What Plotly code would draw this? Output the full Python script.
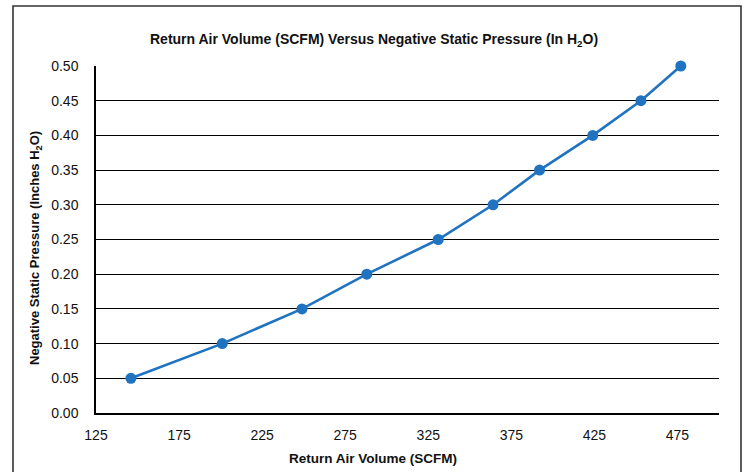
import plotly.graph_objects as go

# Data
airflow_scfm = [146, 201, 249, 288, 331, 364, 392, 424, 453, 477]
static_pressure_in_h2o = [0.05, 0.10, 0.15, 0.20, 0.25, 0.30, 0.35, 0.40, 0.45, 0.50]

x_tick_values = [125, 175, 225, 275, 325, 375, 425, 475]
y_tick_values = [0.00, 0.05, 0.10, 0.15, 0.20, 0.25, 0.30, 0.35, 0.40, 0.45, 0.50]

chart_title = "Return Air Volume (SCFM) Versus Negative Static Pressure (In H<sub>2</sub>O)"
x_title = "Return Air Volume (SCFM)"
y_title = "Negative Static Pressure (Inches H<sub>2</sub>O)"

FONT = "Liberation Sans Narrow, Arial Narrow, Liberation Sans, Arial, sans-serif"
BLUE = "#1f73c1"

W, H = 746, 472
ML, MR, MT, MB = 96, 27, 66, 59
PW = W - ML - MR
PH = H - MT - MB

def px_to_paper_x(px):
    return (px - ML) / PW

def px_to_paper_y(py):
    return (H - MB - py) / PH

fig = go.Figure()
fig.add_trace(go.Scatter(
    x=airflow_scfm, y=static_pressure_in_h2o,
    mode="lines+markers",
    line=dict(color=BLUE, width=2.6),
    marker=dict(color=BLUE, size=11),
    cliponaxis=False,
    showlegend=False,
))

fig.update_layout(
    width=W, height=H,
    margin=dict(l=ML, r=MR, t=MT, b=MB),
    paper_bgcolor="white", plot_bgcolor="white",
    font=dict(family=FONT, size=14, color="#111"),
    xaxis=dict(
        range=[125, 500], tickvals=x_tick_values,
        ticktext=[str(v) for v in x_tick_values],
        showgrid=False, zeroline=False,
        showline=True, linecolor="black", linewidth=1.5,
        ticks="", ticklabelstandoff=8,
        tickfont=dict(family=FONT, size=14, color="#111"),
    ),
    yaxis=dict(
        range=[0, 0.5], tickvals=y_tick_values,
        ticktext=[f"{v:.2f}" for v in y_tick_values],
        showgrid=True, gridcolor="black", gridwidth=1.3,
        zeroline=False,
        showline=True, linecolor="black", linewidth=1.5,
        ticks="", ticklabelstandoff=13,
        tickfont=dict(family=FONT, size=14, color="#111"),
    ),
    shapes=[dict(
        type="rect", xref="paper", yref="paper",
        x0=px_to_paper_x(13), x1=px_to_paper_x(741),
        y0=px_to_paper_y(480), y1=px_to_paper_y(6),
        line=dict(color="#333", width=1.6), fillcolor="rgba(0,0,0,0)",
        layer="below",
    )],
    annotations=[
        dict(text=f"<b>{chart_title}</b>", xref="paper", yref="paper",
             x=px_to_paper_x(374), y=px_to_paper_y(40),
             xanchor="center", yanchor="middle", showarrow=False,
             font=dict(family=FONT, size=14, color="#111")),
        dict(text=f"<b>{x_title}</b>", xref="paper", yref="paper",
             x=px_to_paper_x(373), y=px_to_paper_y(458),
             xanchor="center", yanchor="middle", showarrow=False,
             font=dict(family=FONT, size=13.5, color="#111")),
        dict(text=f"<b>{y_title}</b>", xref="paper", yref="paper",
             x=px_to_paper_x(35), y=px_to_paper_y(248),
             xanchor="center", yanchor="middle", showarrow=False,
             textangle=-90,
             font=dict(family=FONT, size=13, color="#111")),
    ],
)

fig.write_html(
    "out.html",
    config={"displayModeBar": False},
    post_script="document.body.style.margin='0';document.body.style.overflow='hidden';",
)
